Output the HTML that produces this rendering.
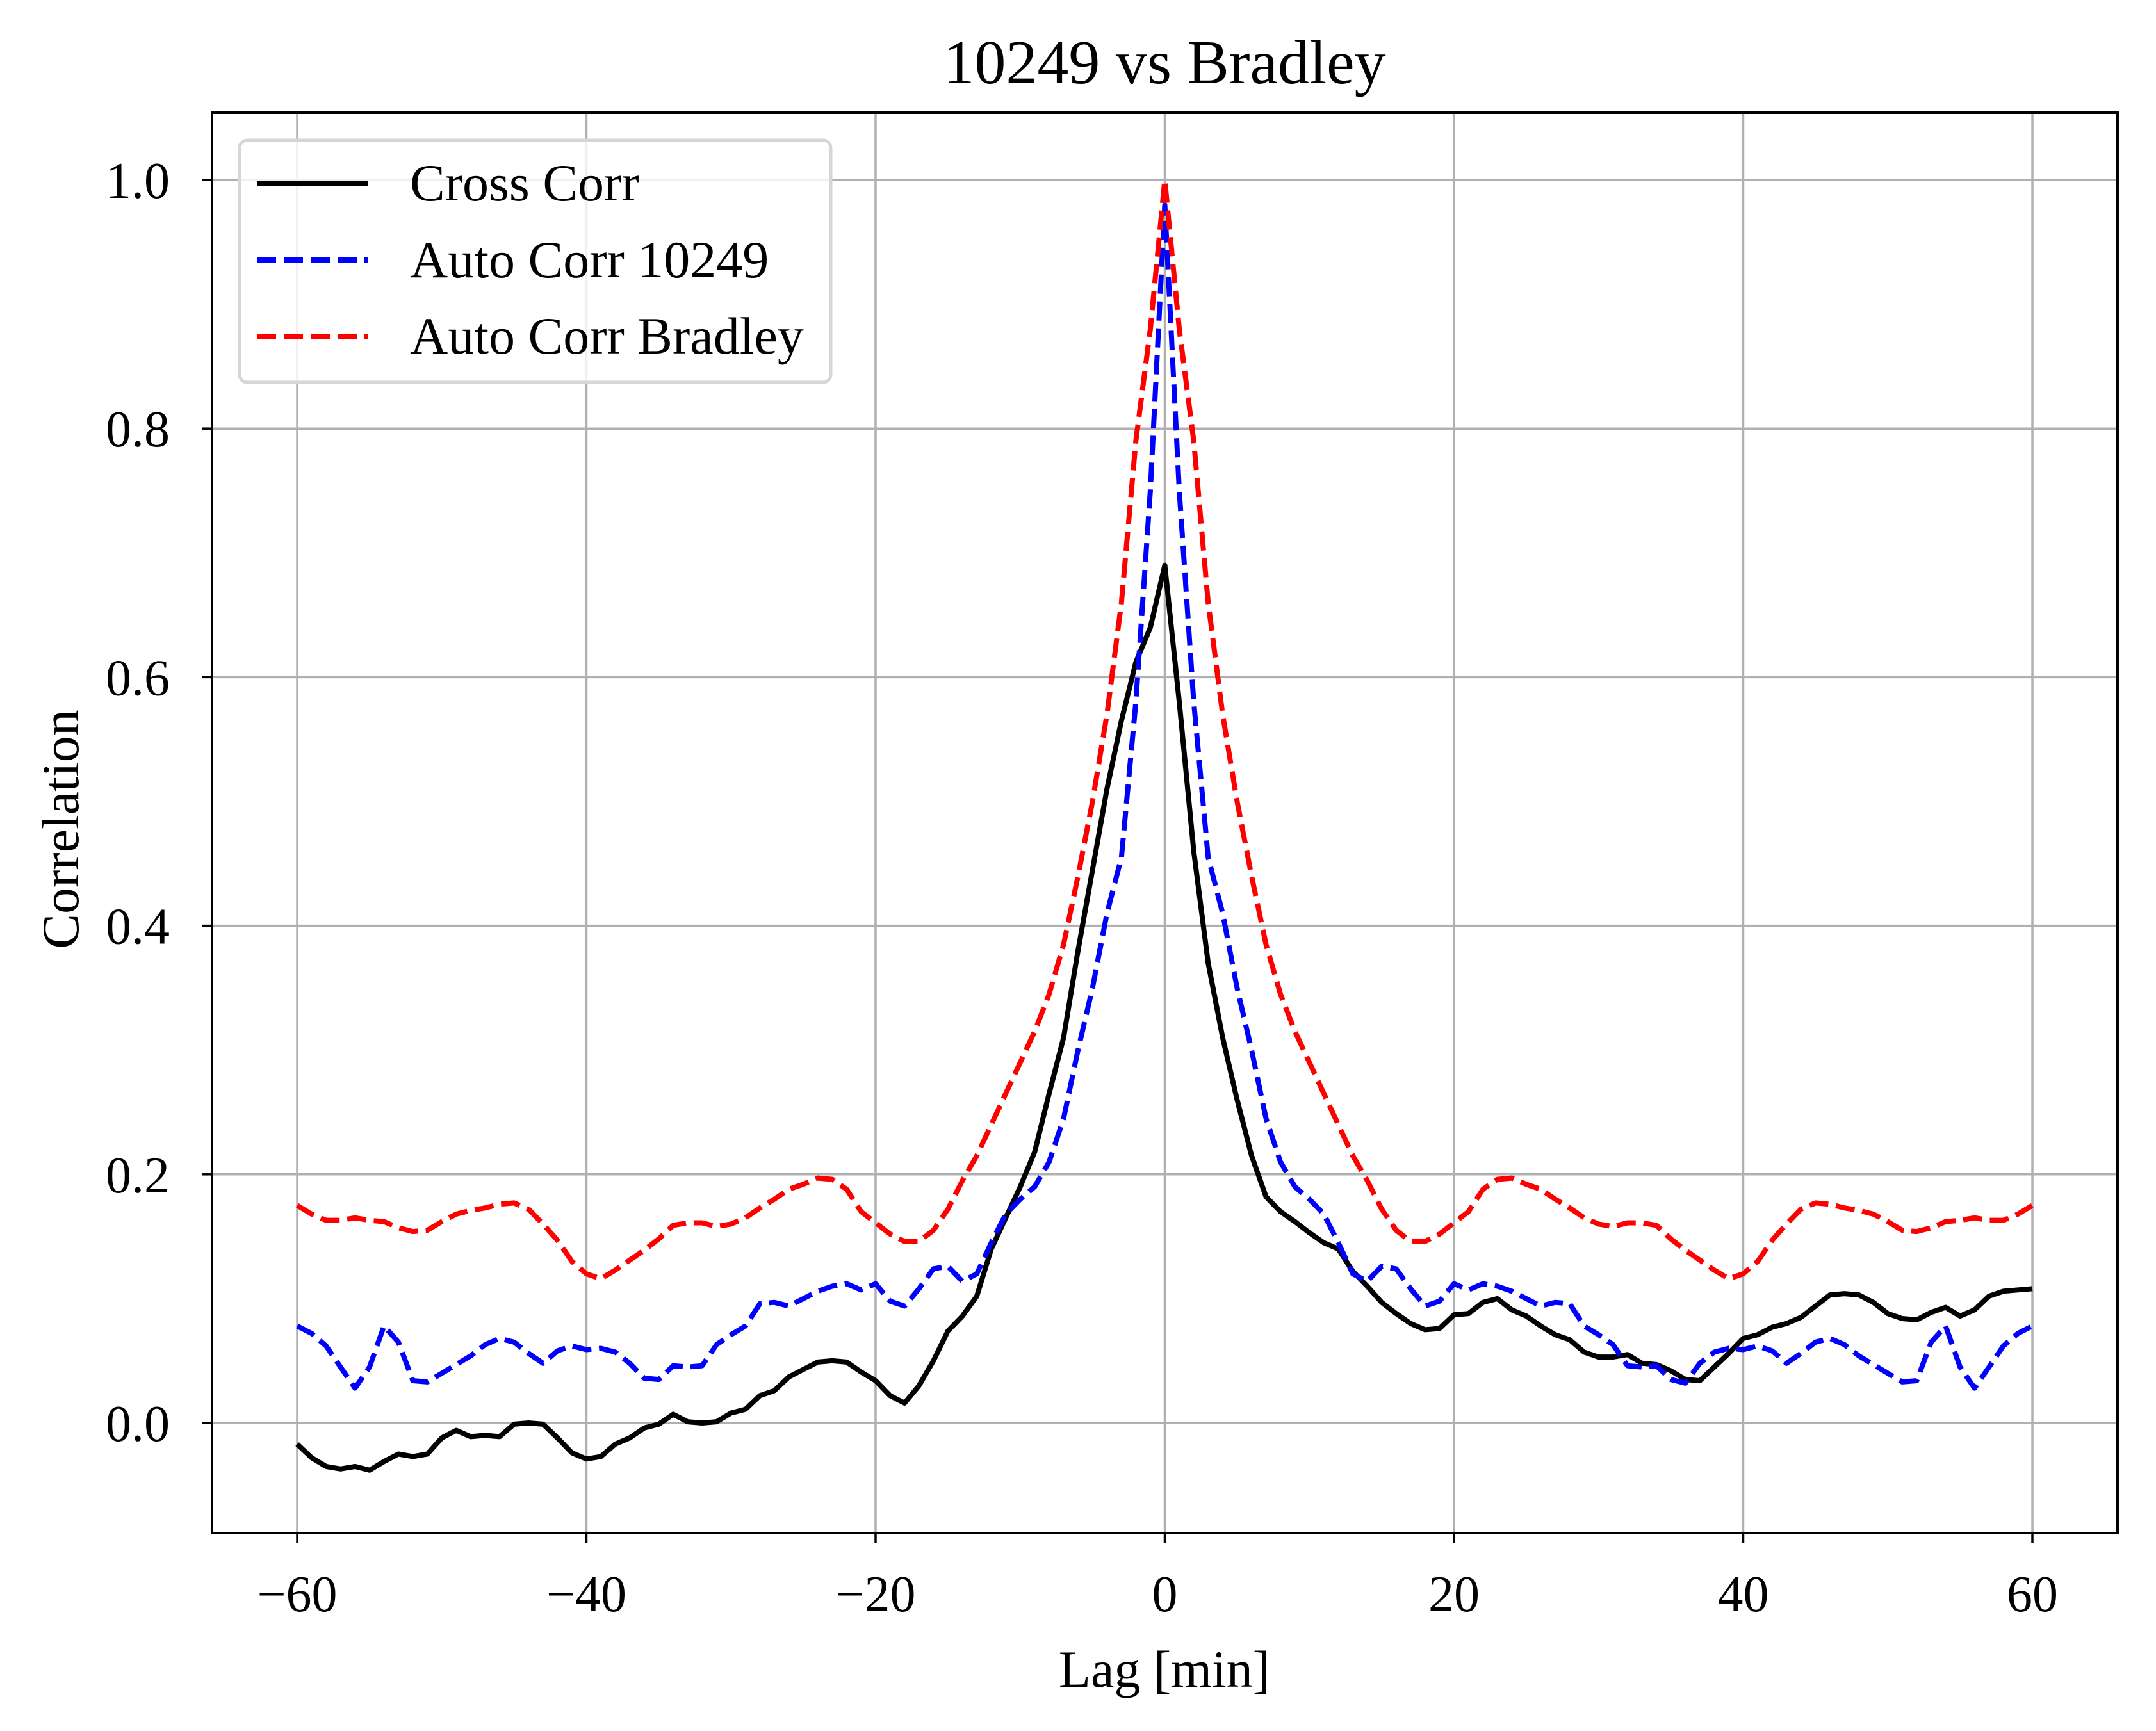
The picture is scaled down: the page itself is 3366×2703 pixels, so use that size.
<!DOCTYPE html>
<html><head><meta charset="utf-8"><style>
html,body{margin:0;padding:0;background:#fff;}
svg text{font-family:"Liberation Serif",serif;fill:#000;}
</style></head><body>
<svg id="chart" width="3366" height="2698" xmlns="http://www.w3.org/2000/svg">
<rect width="3366" height="2698" fill="#fff"/>
<g id="grid"></g>
<g id="series"></g>
<rect x="331" y="176" width="2975" height="2218" fill="none" stroke="#000" stroke-width="4"/>
<g id="ticks"></g>
<text x="1818" y="130" font-size="98" text-anchor="middle">10249 vs Bradley</text>
<text x="1818" y="2634" font-size="82" text-anchor="middle">Lag [min]</text>
<text x="0" y="0" font-size="82" text-anchor="middle" transform="translate(122,1295) rotate(-90)">Correlation</text>
<g>
<rect x="374" y="219" width="923" height="378" rx="12" fill="#fff" fill-opacity="0.8" stroke="#d6d6d6" stroke-width="5"/>
<line x1="401" y1="286" x2="575" y2="286" stroke="#000" stroke-width="8"/>
<text x="640" y="313" font-size="82">Cross Corr</text>
<line x1="401" y1="406" x2="575" y2="406" stroke="#00f" stroke-width="8" stroke-dasharray="30,12"/>
<text x="640" y="433" font-size="82">Auto Corr 10249</text>
<line x1="401" y1="525" x2="575" y2="525" stroke="#f00" stroke-width="8" stroke-dasharray="30,12"/>
<text x="640" y="552" font-size="82">Auto Corr Bradley</text>
</g>
</svg>
<script>
const lagStart = -60;
const crossCorr = [-0.017,-0.028,-0.035,-0.037,-0.035,-0.038,-0.031,-0.025,-0.027,-0.025,-0.012,-0.006,-0.011,-0.010,-0.011,-0.001,0.000,-0.001,-0.012,-0.024,-0.029,-0.027,-0.017,-0.012,-0.004,-0.001,0.007,0.001,0.000,0.001,0.008,0.011,0.022,0.026,0.037,0.043,0.049,0.050,0.049,0.041,0.034,0.022,0.016,0.030,0.050,0.074,0.086,0.102,0.140,0.165,0.190,0.218,0.265,0.310,0.380,0.445,0.510,0.565,0.612,0.640,0.690,0.580,0.460,0.370,0.310,0.260,0.215,0.182,0.170,0.162,0.153,0.145,0.140,0.122,0.110,0.097,0.088,0.080,0.075,0.076,0.087,0.088,0.097,0.100,0.091,0.086,0.078,0.071,0.067,0.057,0.053,0.053,0.055,0.048,0.047,0.042,0.035,0.034,0.045,0.056,0.068,0.071,0.077,0.080,0.085,0.094,0.103,0.104,0.103,0.097,0.088,0.084,0.083,0.089,0.093,0.086,0.091,0.102,0.106,0.107,0.108];
const autoA = [0.078,0.072,0.062,0.045,0.028,0.045,0.078,0.065,0.034,0.033,0.040,0.047,0.054,0.063,0.068,0.065,0.056,0.048,0.058,0.062,0.059,0.060,0.057,0.048,0.036,0.035,0.046,0.045,0.046,0.063,0.071,0.078,0.096,0.097,0.094,0.100,0.106,0.110,0.112,0.107,0.112,0.098,0.094,0.108,0.124,0.126,0.114,0.120,0.145,0.168,0.180,0.190,0.210,0.245,0.300,0.350,0.410,0.455,0.580,0.750,0.980,0.750,0.580,0.455,0.410,0.350,0.300,0.245,0.210,0.190,0.180,0.168,0.145,0.120,0.114,0.126,0.124,0.108,0.094,0.098,0.112,0.107,0.112,0.110,0.106,0.100,0.094,0.097,0.096,0.078,0.071,0.063,0.046,0.045,0.046,0.035,0.032,0.048,0.057,0.060,0.059,0.062,0.058,0.048,0.056,0.065,0.068,0.063,0.054,0.047,0.040,0.033,0.034,0.065,0.078,0.045,0.028,0.045,0.062,0.072,0.078];
const autoB = [0.175,0.168,0.163,0.163,0.165,0.163,0.162,0.157,0.154,0.155,0.162,0.168,0.171,0.173,0.176,0.177,0.172,0.160,0.147,0.130,0.120,0.116,0.123,0.131,0.139,0.148,0.159,0.161,0.161,0.158,0.160,0.165,0.173,0.180,0.188,0.192,0.197,0.196,0.188,0.170,0.161,0.152,0.146,0.146,0.155,0.172,0.195,0.215,0.240,0.265,0.290,0.315,0.345,0.385,0.440,0.500,0.570,0.660,0.790,0.880,1.000,0.880,0.790,0.660,0.570,0.500,0.440,0.385,0.345,0.315,0.290,0.265,0.240,0.215,0.195,0.172,0.155,0.146,0.146,0.152,0.161,0.170,0.188,0.196,0.197,0.192,0.188,0.180,0.173,0.165,0.160,0.158,0.161,0.161,0.159,0.148,0.139,0.131,0.123,0.116,0.120,0.130,0.147,0.160,0.172,0.177,0.176,0.173,0.171,0.168,0.162,0.155,0.154,0.157,0.162,0.163,0.165,0.163,0.163,0.168,0.175];
const xTicks = [-60,-40,-20,0,20,40,60];
const xTickLabels = ["\u221260","\u221240","\u221220","0","20","40","60"];
const yTicks = [0,0.2,0.4,0.6,0.8,1.0];
const yTickLabels = ["0.0","0.2","0.4","0.6","0.8","1.0"];

const NS="http://www.w3.org/2000/svg";
const L=331,R=3306,T=176,B=2394;
const X0=464,X1=3173,Y0=2222,Y1=281;
function xs(v){return X0+(v+60)/120*(X1-X0);}
function ys(v){return Y0+v*(Y1-Y0);}
function mk(tag,parent){const e=document.createElementNS(NS,tag);parent.appendChild(e);return e;}
const grid=document.getElementById('grid'),ticks=document.getElementById('ticks'),series=document.getElementById('series');
xTicks.forEach((v,i)=>{
  const g=mk('line',grid);
  
  
  g.setAttribute('x1',xs(v));g.setAttribute('x2',xs(v));g.setAttribute('y1',T);g.setAttribute('y2',B);
  g.setAttribute('stroke','#b0b0b0');g.setAttribute('stroke-width','3.5');
  const t=mk('line',ticks);
  
  
  t.setAttribute('x1',xs(v));t.setAttribute('x2',xs(v));t.setAttribute('y1',B);t.setAttribute('y2',B+15);
  t.setAttribute('stroke','#000');t.setAttribute('stroke-width','3.5');
  const s=mk('text',ticks);
  
  
  s.setAttribute('x',xs(v));s.setAttribute('y',B+122);s.setAttribute('font-size','80');s.setAttribute('text-anchor','middle');
  s.textContent=xTickLabels[i];
});
yTicks.forEach((v,i)=>{
  const g=mk('line',grid);
  
  
  g.setAttribute('x1',L);g.setAttribute('x2',R);g.setAttribute('y1',ys(v));g.setAttribute('y2',ys(v));
  g.setAttribute('stroke','#b0b0b0');g.setAttribute('stroke-width','3.5');
  const t=mk('line',ticks);
  
  
  t.setAttribute('x1',L-15);t.setAttribute('x2',L);t.setAttribute('y1',ys(v));t.setAttribute('y2',ys(v));
  t.setAttribute('stroke','#000');t.setAttribute('stroke-width','3.5');
  const s=mk('text',ticks);
  
  
  s.setAttribute('x',L-66);s.setAttribute('y',ys(v)+28);s.setAttribute('font-size','80');s.setAttribute('text-anchor','end');
  s.textContent=yTickLabels[i];
});
function line(data,color,dash,name){
  const p=mk('polyline',series);
  
  
  p.setAttribute('points',data.map((v,i)=>xs(lagStart+i).toFixed(1)+','+ys(v).toFixed(1)).join(' '));
  p.setAttribute('fill','none');p.setAttribute('stroke',color);p.setAttribute('stroke-width','8');
  p.setAttribute('stroke-linejoin','round');
  if(dash)p.setAttribute('stroke-dasharray',dash);
}
line(crossCorr,'#000',null,'cross-corr-line');
line(autoA,'#00f','30,12','auto-corr-10249-line');
line(autoB,'#f00','30,12','auto-corr-bradley-line');
</script>
</body></html>
